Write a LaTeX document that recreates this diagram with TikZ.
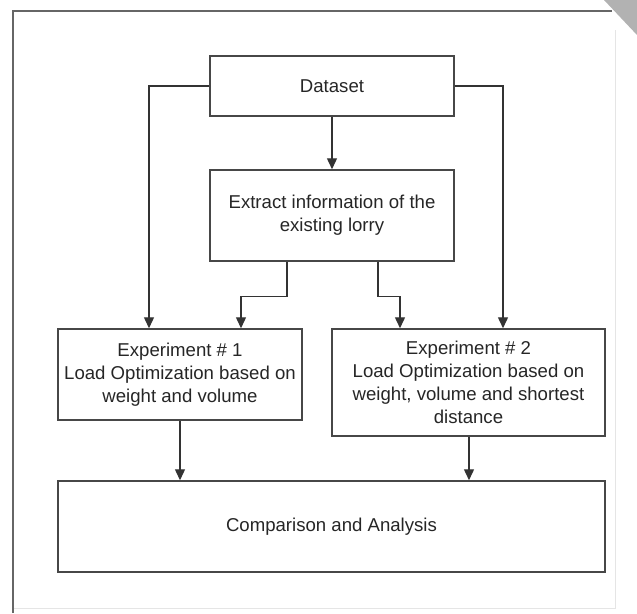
\documentclass[tikz,border=0pt]{standalone}
\usepackage{fontspec}
\setmainfont{Liberation Sans}
\usetikzlibrary{arrows.meta}
\begin{document}
\begin{tikzpicture}[x=1pt,y=-1pt,
  box/.style={draw=black!72,line width=1.5pt,rectangle,align=center,inner sep=0pt,
    text=black!85,font=\fontsize{18.6}{23}\selectfont},
  arr/.style={draw=black!80,line width=1.4pt,-{Triangle[length=11pt,width=10pt]}},
  framedark/.style={draw=black!60,line width=1.5pt},
  framelight/.style={draw=black!10,line width=1pt}]
\useasboundingbox[fill=white] (0,0) rectangle (637,613);
% page frame
\draw[framelight] (615,30) -- (615,608) -- (13,608);
\draw[framedark] (13,613) -- (13,11) -- (612,11);
\fill[black!30] (604,0) -- (637,0) -- (637,35) -- cycle;
% nodes
\node[box,minimum width=244pt,minimum height=60pt] (ds) at (332,86) {Dataset};
\node[box,minimum width=244pt,minimum height=91pt] (ex) at (332,215.5) {Extract information of the\\existing lorry};
\node[box,minimum width=244pt,minimum height=91pt] (e1) at (180,374.5) {Experiment \# 1\\Load Optimization based on\\weight and volume};
\node[box,minimum width=273pt,minimum height=107pt] (e2) at (468.5,382.5) {Experiment \# 2\\Load Optimization based on\\weight, volume and shortest\\distance};
\node[box,minimum width=547pt,minimum height=91pt] (cmp) at (331.5,526.5) {Comparison and Analysis};
% connectors
\draw[arr] (ds.south) -- (ex.north);
\draw[arr] (ds.west) -| ([xshift=-31pt]e1.north);
\draw[arr] (ds.east) -| ([xshift=34.5pt]e2.north);
\draw[arr] ([xshift=-45pt]ex.south) -- ++(0,35) -| ([xshift=61pt]e1.north);
\draw[arr] ([xshift=46pt]ex.south) -- ++(0,35) -| ([xshift=-68.5pt]e2.north);
\draw[arr] (e1.south) -- (e1.south |- cmp.north);
\draw[arr] ([xshift=0.5pt]e2.south) -- ([xshift=0.5pt]e2.south |- cmp.north);
\end{tikzpicture}
\end{document}
